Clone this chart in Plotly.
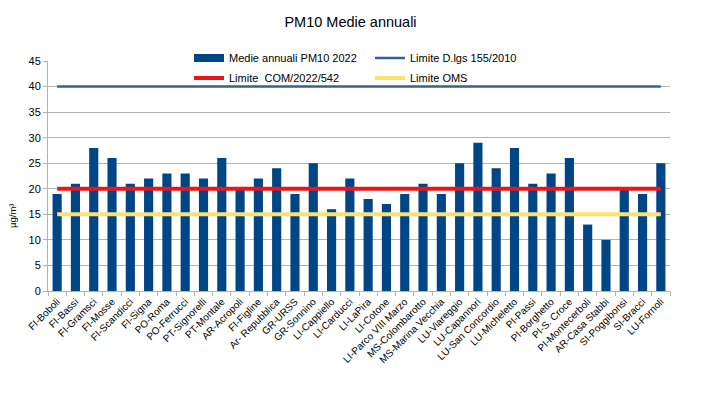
import plotly.graph_objects as go

stations = ["FI-Boboli", "FI-Bassi", "FI-Gramsci", "FI-Mosse", "FI-Scandicci", "FI-Signa",
            "PO-Roma", "PO-Ferrucci", "PT-Signorelli", "PT-Montale", "AR-Acropoli", "FI-Figline",
            "Ar- Repubblica", "GR-URSS", "GR-Sonnino", "LI-Cappiello", "LI-Carducci", "LI-LaPira",
            "LI-Cotone", "LI-Parco VIII Marzo", "MS-Colombarotto", "MS-Marina Vecchia",
            "LU-Viareggio", "LU-Capannori", "LU-San Concordio", "LU-Micheletto", "PI-Passi",
            "PI-Borghetto", "PI-S. Croce", "PI-Montecerboli", "AR-Casa Stabbi", "SI-Poggibonsi",
            "SI-Bracci", "LU-Fornoli"]
medie_2022 = [19, 21, 28, 26, 21, 22, 23, 23, 22, 26, 20, 22, 24, 19, 25, 16, 22, 18,
              17, 19, 21, 19, 25, 29, 24, 28, 21, 23, 26, 13, 10, 20, 19, 25]
limite_dlgs = [40] * len(stations)
limite_com = [20] * len(stations)
limite_oms = [15] * len(stations)

FONT = "Liberation Sans, Arial, sans-serif"
BAR_COLOR = "#004586"

fig = go.Figure()
fig.add_trace(go.Bar(x=stations, y=medie_2022, name="Medie annuali PM10 2022",
                     marker=dict(color=BAR_COLOR, line=dict(width=0)), showlegend=False))
# legend proxy giving the wide rectangular swatch of the bar series
fig.add_trace(go.Scatter(x=[None], y=[None], name="Medie annuali PM10 2022", mode="lines",
                         line=dict(color=BAR_COLOR, width=8), legend="legend",
                         hoverinfo="skip"))
fig.add_trace(go.Scatter(x=stations, y=limite_dlgs, name="Limite D.lgs 155/2010", mode="lines",
                         line=dict(color="#3a6091", width=2.5), legend="legend"))
fig.add_trace(go.Scatter(x=stations, y=limite_com, name="Limite  COM/2022/542", mode="lines",
                         line=dict(color="#e8161b", width=4), legend="legend2"))
fig.add_trace(go.Scatter(x=stations, y=limite_oms, name="Limite OMS", mode="lines",
                         line=dict(color="#ffe26e", width=4), legend="legend2"))

leg_common = dict(orientation="h", xref="container", yref="container", x=189 / 701,
                  xanchor="left", yanchor="middle", font=dict(family=FONT, size=11),
                  entrywidth=136, bgcolor="rgba(0,0,0,0)", traceorder="normal", itemwidth=30)

fig.update_layout(
    width=701, height=393,
    margin=dict(l=48, r=31, t=61, b=102, autoexpand=False),
    paper_bgcolor="white", plot_bgcolor="white",
    font=dict(family=FONT, size=10, color="#000000"),
    title=dict(text="PM10 Medie annuali", x=0.5, xanchor="center", xref="container",
               yref="container", y=1 - 22 / 393, yanchor="middle",
               font=dict(family=FONT, size=14.5, color="#000000")),
    bargap=0.5,
    showlegend=True,
    legend=dict(leg_common, y=1 - 58 / 393),
    legend2=dict(leg_common, y=1 - 78 / 393),
    xaxis=dict(type="category", tickangle=-45, tickfont=dict(family=FONT, size=10),
               showline=True, linecolor="#b3b3b3", linewidth=1, ticks="outside",
               tickson="boundaries", ticklen=4, tickcolor="#b3b3b3", showgrid=False,
               range=[-0.5, len(stations) - 0.5], automargin=False),
    yaxis=dict(range=[0, 45], dtick=5, showgrid=True, gridcolor="#b3b3b3", gridwidth=1,
               showline=True, linecolor="#b3b3b3", ticks="outside", ticklen=4,
               tickcolor="#b3b3b3", tickfont=dict(family=FONT, size=11), zeroline=False,
               automargin=False),
    annotations=[dict(text="µg/m³", xref="paper", yref="paper", x=-36 / 622, y=(291 - 216) / 230,
                      xanchor="center", yanchor="middle", textangle=-90, showarrow=False,
                      font=dict(family=FONT, size=9.5, color="#000000"))],
)

fig.write_html("out.html", config={"displayModeBar": False},
               post_script="document.body.style.margin='0';")
